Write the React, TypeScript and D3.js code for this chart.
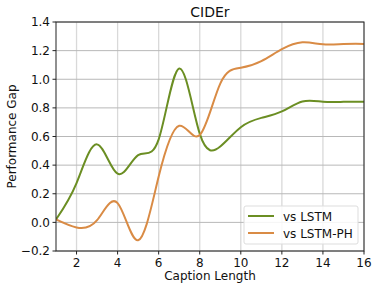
import React from 'react';
import * as d3 from 'd3';

const lengths = [1, 2, 3, 4, 5, 6, 7, 8, 9, 10, 11, 12, 13, 14, 15, 16];
const vsLstm = [0.02, 0.275, 0.545, 0.34, 0.47, 0.58, 1.075, 0.62, 0.53, 0.665, 0.73, 0.775, 0.845, 0.843, 0.842, 0.843];
const vsLstmPh = [0.02, -0.036, 0.015, 0.135, -0.125, 0.32, 0.675, 0.61, 0.97, 1.08, 1.127, 1.21, 1.258, 1.244, 1.246, 1.247];
const xTicks = [2, 4, 6, 8, 10, 12, 14, 16];
const yTicks = [-0.2, 0.0, 0.2, 0.4, 0.6, 0.8, 1.0, 1.2, 1.4];
const seriesNames = ['vs LSTM', 'vs LSTM-PH'];
const colors = ['#6b8e23', '#d98b45'];

const W = 378;
const H = 290;
const margin = { top: 22, right: 14, bottom: 39, left: 56 };

export default function App() {
  const x = d3.scaleLinear().domain([1, 16]).range([margin.left, W - margin.right]);
  const y = d3.scaleLinear().domain([-0.2, 1.4]).range([H - margin.bottom, margin.top]);

  const line = d3
    .line<number>()
    .x((_, i) => x(lengths[i]))
    .y((d) => y(d))
    .curve(d3.curveNatural);

  const font = 'DejaVu Sans, sans-serif';
  const x0 = x.range()[0];
  const x1 = x.range()[1];
  const yb = y.range()[0];
  const yt = y.range()[1];

  const lx = 244;
  const ly = 206;

  return (
    <svg width={W} height={H} style={{ position: 'absolute', left: 0, top: 0 }} fontFamily={font}>
      <rect width={W} height={H} fill="#fff" />
      <defs>
        <clipPath id="plot">
          <rect x={x0} y={yt} width={x1 - x0} height={yb - yt} />
        </clipPath>
      </defs>
      {/* grid */}
      {xTicks.map((t) => (
        <line key={'gx' + t} x1={x(t)} x2={x(t)} y1={yt} y2={yb} stroke="#d9d9d9" strokeWidth={1.3} />
      ))}
      {yTicks.map((t) => (
        <line key={'gy' + t} x1={x0} x2={x1} y1={y(t)} y2={y(t)} stroke="#b8b8b8" strokeWidth={1} />
      ))}
      {/* series */}
      <g clipPath="url(#plot)">
        <path d={line(vsLstm) || ''} fill="none" stroke={colors[0]} strokeWidth={2} />
        <path d={line(vsLstmPh) || ''} fill="none" stroke={colors[1]} strokeWidth={2} />
      </g>
      {/* frame */}
      <rect x={x0} y={yt} width={x1 - x0} height={yb - yt} fill="none" stroke="#222" strokeWidth={1} />
      {/* x ticks */}
      {xTicks.map((t) => (
        <g key={'xt' + t}>
          <line x1={x(t)} x2={x(t)} y1={yb} y2={yb + 3.5} stroke="#222" />
          <text x={x(t)} y={yb + 16} fontSize={12} textAnchor="middle" fill="#111">
            {t}
          </text>
        </g>
      ))}
      {/* y ticks */}
      {yTicks.map((t) => (
        <g key={'yt' + t}>
          <line x1={x0 - 3.5} x2={x0} y1={y(t)} y2={y(t)} stroke="#222" />
          <text x={x0 - 6} y={y(t) + 4.3} fontSize={12} textAnchor="end" fill="#111">
            {t < 0 ? '\u2212' + Math.abs(t).toFixed(1) : t.toFixed(1)}
          </text>
        </g>
      ))}
      {/* titles */}
      <text x={(x0 + x1) / 2} y={17} fontSize={14} textAnchor="middle" fill="#111">
        CIDEr
      </text>
      <text x={(x0 + x1) / 2} y={280} fontSize={12} textAnchor="middle" fill="#111">
        Caption Length
      </text>
      <text
        transform={`translate(16,${(yt + yb) / 2}) rotate(-90)`}
        fontSize={12}
        textAnchor="middle"
        fill="#111"
      >
        Performance Gap
      </text>
      {/* legend */}
      <rect x={lx} y={ly} width={114} height={38} rx={2} fill="#fff" fillOpacity={0.85} stroke="#ddd" />
      {seriesNames.map((n, i) => (
        <g key={n}>
          <line x1={lx + 4} x2={lx + 30} y1={ly + 10 + i * 17} y2={ly + 10 + i * 17} stroke={colors[i]} strokeWidth={2} />
          <text x={lx + 39} y={ly + 14.5 + i * 17} fontSize={12} fill="#111">
            {n}
          </text>
        </g>
      ))}
    </svg>
  );
}
